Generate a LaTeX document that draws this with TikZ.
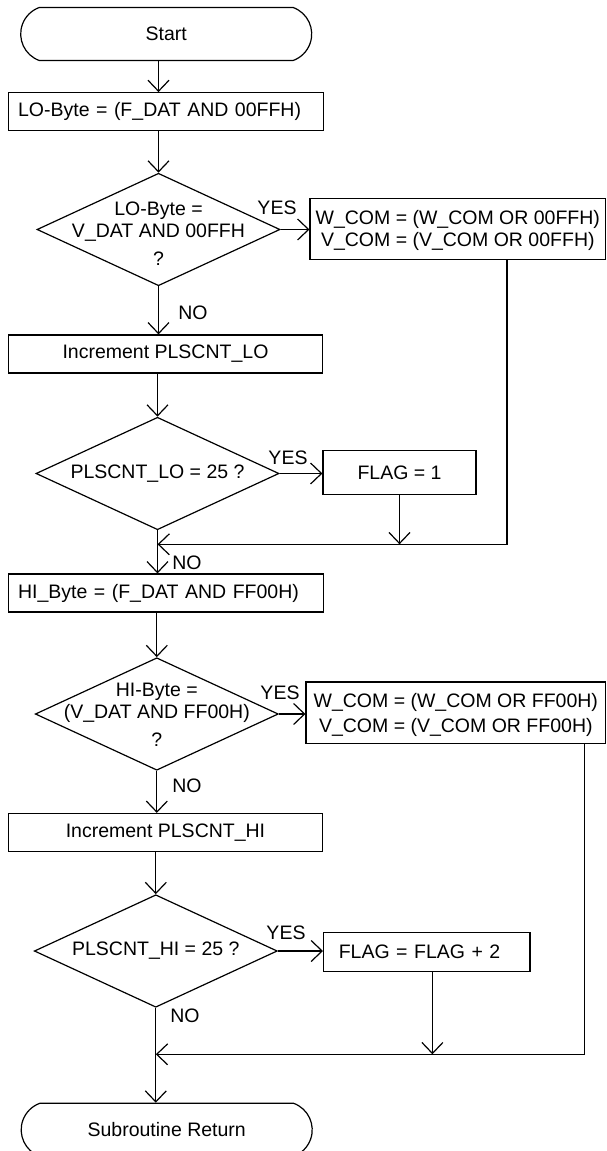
\documentclass[tikz,border=0pt]{standalone}
\usepackage{fontspec}
\setmainfont{Liberation Sans}
\usetikzlibrary{arrows.meta, shapes.geometric, shapes.misc}

\tikzset{
  term/.style={draw, rounded rectangle, rounded rectangle arc length=140, minimum width=291pt, minimum height=53pt, inner sep=0pt},
  stepbox/.style={draw, rectangle, minimum height=38pt, inner sep=0pt},
  leftbox/.style={stepbox, text width=295pt, inner xsep=10pt, align=left},
  decision/.style={draw, diamond, minimum width=243pt, minimum height=112.5pt, inner sep=0pt},
  flow/.style={-{Straight Barb[length=11pt, width=21pt]}},
}

\begin{document}
\begin{tikzpicture}[x=1pt, y=-1pt, line width=1.2pt, every node/.style={font=\fontsize{19.5}{22}\selectfont}]
\useasboundingbox (0,0) rectangle (607,1151);

% main column
\node[term] (start) at (166.2,34) {Start};
\node[leftbox] (lobyte) at (165.6,111.7) {LO-Byte = (F\_DAT AND 00FFH)};
\node[decision, label={[align=center, yshift=-4pt]center:{LO-Byte =\\V\_DAT AND 00FFH\\[6pt]?}}] (dlo) at (158.5,229.5) {};
\node[stepbox, minimum width=314.5pt] (inclo) at (165.5,354) {Increment PLSCNT\_LO};
\node[decision, label={center:{PLSCNT\_LO = 25 ?}}] (dplo) at (157.5,473.5) {};
\node[leftbox] (hibyte) at (165.6,593) {HI\_Byte = (F\_DAT AND FF00H)};
\node[decision, label={[align=center, yshift=-1pt]center:{HI-Byte =\\(V\_DAT AND FF00H)\\[6pt]?}}] (dhi) at (156.8,714) {};
\node[stepbox, minimum width=314pt] (inchi) at (165.5,832.5) {Increment PLSCNT\_HI};
\node[decision, label={center:{PLSCNT\_HI = 25 ?}}] (dphi) at (155.8,951) {};
\node[term] (ret) at (166.7,1129.8) {Subroutine Return};

% right column
\node[stepbox, minimum width=295.5pt, minimum height=61pt, align=center, text depth=0pt] (wcomlo) at (457.8,228.8) {W\_COM = (W\_COM OR 00FFH)\\V\_COM = (V\_COM OR 00FFH)};
\node[stepbox, minimum width=153pt, minimum height=43.6pt] (flaga) at (399.5,472.5) {FLAG = 1};
\node[stepbox, minimum width=299.5pt, minimum height=61.3pt, align=center, text depth=0pt] (wcomhi) at (455.8,712.7) {W\_COM = (W\_COM OR FF00H)\\[3.5pt]V\_COM = (V\_COM OR FF00H)};
\node[stepbox, minimum width=206.4pt, minimum height=39pt, text width=176pt, inner xsep=15pt, align=left] (flagb) at (426.8,952.2) {FLAG = FLAG + 2};

% labels
\node (yesa) at (277,208) {YES};
\node (noa) at (193,312.5) {NO};
\node (yesb) at (288,457.5) {YES};
\node (nob) at (187,562.5) {NO};
\node (yesc) at (280,693) {YES};
\node (noc) at (187,786) {NO};
\node (yesd) at (286,933) {YES};
\node (nod) at (185,1016) {NO};

\coordinate (joina) at (157.5,544.3);
\coordinate (rlo) at (507,544.3);
\coordinate (joinb) at (155.8,1054.3);
\coordinate (rhi) at (584.5,1054.3);

% down the middle
\draw[flow] (dlo.north |- start.south) -- (dlo.north |- lobyte.north);
\draw[flow] (dlo.north |- lobyte.south) -- (dlo.north);
\draw[flow] (dlo.south) -- (dlo.south |- inclo.north);
\draw[flow] (dplo.north |- inclo.south) -- (dplo.north);
\draw[flow] (dplo.south) -- (dplo.south |- hibyte.north);
\draw[flow] (dhi.north |- hibyte.south) -- (dhi.north);
\draw[flow] (dhi.south) -- (dhi.south |- inchi.north);
\draw[flow] (dphi.north |- inchi.south) -- (dphi.north);
\draw[flow] (dphi.south) -- (dphi.south |- ret.north);

% yes branches
\draw[flow] (dlo.east) -- (dlo.east -| wcomlo.west);
\draw[flow] (dplo.east) -- (dplo.east -| flaga.west);
\draw[flow] (dhi.east) -- (dhi.east -| wcomhi.west);
\draw[flow] (dphi.east) -- (dphi.east -| flagb.west);

% back to the main line
\draw[flow] (wcomlo.south -| rlo) -- (rlo) -- (joina);
\draw[flow] (flaga.south) -- (flaga.south |- joina);
\draw[flow] (wcomhi.south -| rhi) -- (rhi) -- (joinb);
\draw[flow] ([xshift=5.6pt]flagb.south) -- ([xshift=5.6pt]flagb.south |- joinb);
\end{tikzpicture}
\end{document}
